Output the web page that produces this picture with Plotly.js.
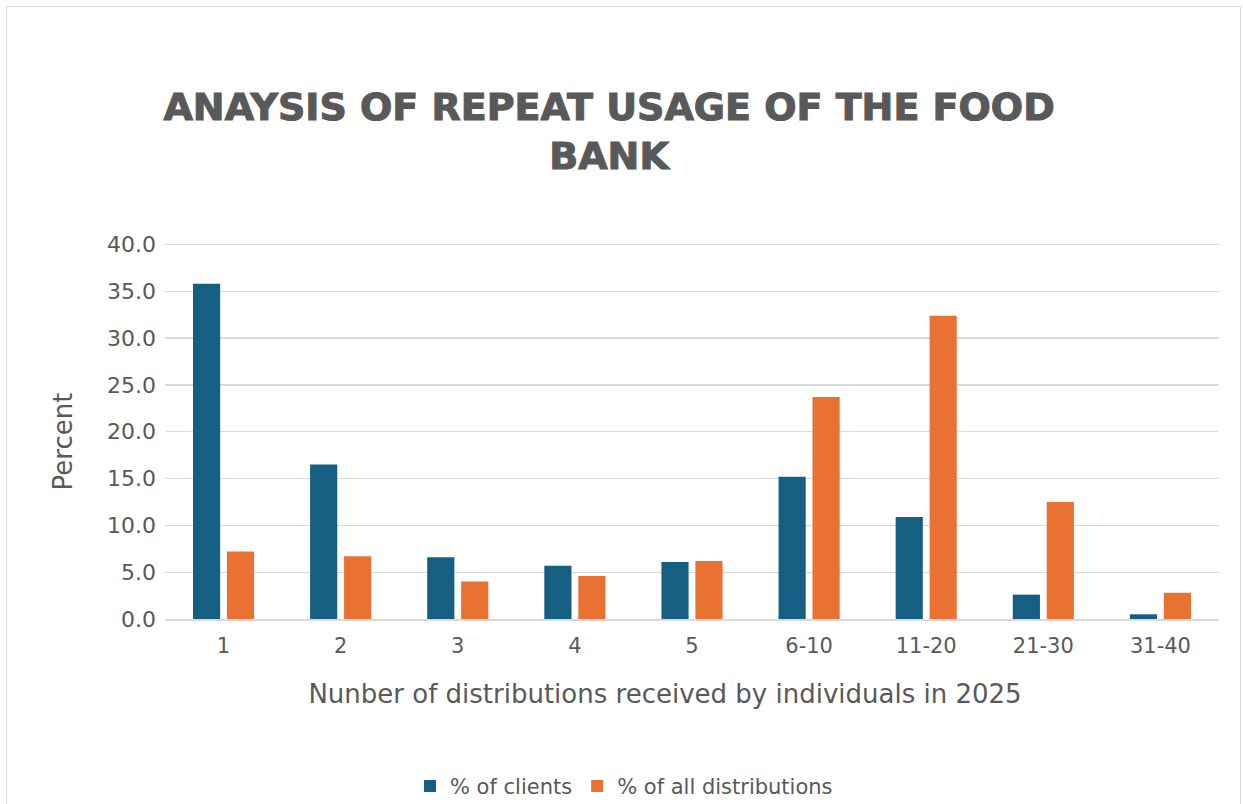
<!DOCTYPE html>
<html>
<head>
<meta charset="utf-8">
<script src="https://cdn.plot.ly/plotly-3.0.1.min.js"></script>
<style>
  html, body { margin: 0; padding: 0; background: #fff; }
  #wrap { position: relative; width: 1243px; height: 804px; overflow: hidden; }
  #chart { position: absolute; left: 0; top: 0; width: 1243px; height: 804px; }
  #frame { position: absolute; left: 6px; top: 6px; width: 1233px; height: 810px; border: 1px solid #d9d9d9; pointer-events: none; }
  #chart .gtitle { stroke: #595959; stroke-width: 1.1px; }
  #chart .g-xtitle { transform: translate(-27px, 0px); }
  #chart .g-ytitle { transform: translate(0px, 10px); }
</style>
</head>
<body>
<div id="wrap">
  <div id="chart"></div>
  <div id="frame"></div>
</div>
<script>
const categories = ["1", "2", "3", "4", "5", "6-10", "11-20", "21-30", "31-40"];
const pctClients = [35.8, 16.5, 6.6, 5.7, 6.1, 15.2, 10.9, 2.6, 0.5];
const pctDistributions = [7.2, 6.7, 4.0, 4.6, 6.2, 23.7, 32.4, 12.5, 2.8];
const seriesNames = ["% of clients", "% of all distributions"];
const yTickVals = [0, 5, 10, 15, 20, 25, 30, 35, 40];
const titleText = "ANAYSIS OF REPEAT USAGE OF THE FOOD<br>BANK";
const xTitle = "Nunber of distributions received by individuals in 2025";
const yTitle = "Percent";

const textColor = "#595959";
const font = "DejaVu Sans, sans-serif";

const traces = [
  { type: "bar", name: seriesNames[0], x: categories, y: pctClients, marker: { color: "#156082" } },
  { type: "bar", name: seriesNames[1], x: categories, y: pctDistributions, marker: { color: "#E97132" } }
];

const layout = {
  width: 1243, height: 804,
  paper_bgcolor: "#ffffff", plot_bgcolor: "#ffffff",
  margin: { l: 165, r: 24, t: 244, b: 185 },
  font: { family: font, color: textColor, size: 20 },
  barmode: "group",
  bargap: 0.42,
  bargroupgap: 0.2,
  title: {
    text: titleText,
    font: { family: "DejaVu Sans, sans-serif", size: 38, color: textColor, weight: 900 },
    x: 0.49, xref: "container", xanchor: "center",
    y: 0.851, yref: "container", yanchor: "top"
  },
  xaxis: {
    type: "category",
    tickfont: { size: 21, color: textColor },
    showgrid: false, zeroline: false,
    showline: true, linecolor: "#d9d9d9", linewidth: 1.5,
    ticks: "", ticklabelstandoff: 7,
    title: { text: xTitle, font: { size: 26, color: textColor }, standoff: 28 }
  },
  yaxis: {
    range: [0, 40.05], tickvals: yTickVals, tickformat: ".1f",
    tickfont: { size: 22, color: textColor },
    showgrid: true, gridcolor: "#d9d9d9", gridwidth: 1.3,
    zeroline: false, showline: false,
    ticks: "", ticklabelstandoff: 8,
    title: { text: yTitle, font: { size: 26, color: textColor }, standoff: 26 }
  },
  shapes: [
    { type: "line", xref: "paper", yref: "y", x0: 0, x1: 1, y0: yTickVals[yTickVals.length - 1], y1: yTickVals[yTickVals.length - 1],
      line: { color: "#d9d9d9", width: 1.3 }, layer: "below" }
  ],
  showlegend: true,
  legend: {
    orientation: "h",
    x: 0.502, xref: "container", xanchor: "center",
    y: 0.022, yref: "container", yanchor: "middle",
    font: { size: 21, color: textColor },
    itemwidth: 30, traceorder: "normal"
  }
};

Plotly.newPlot("chart", traces, layout, { displayModeBar: false, staticPlot: true });
</script>
</body>
</html>
